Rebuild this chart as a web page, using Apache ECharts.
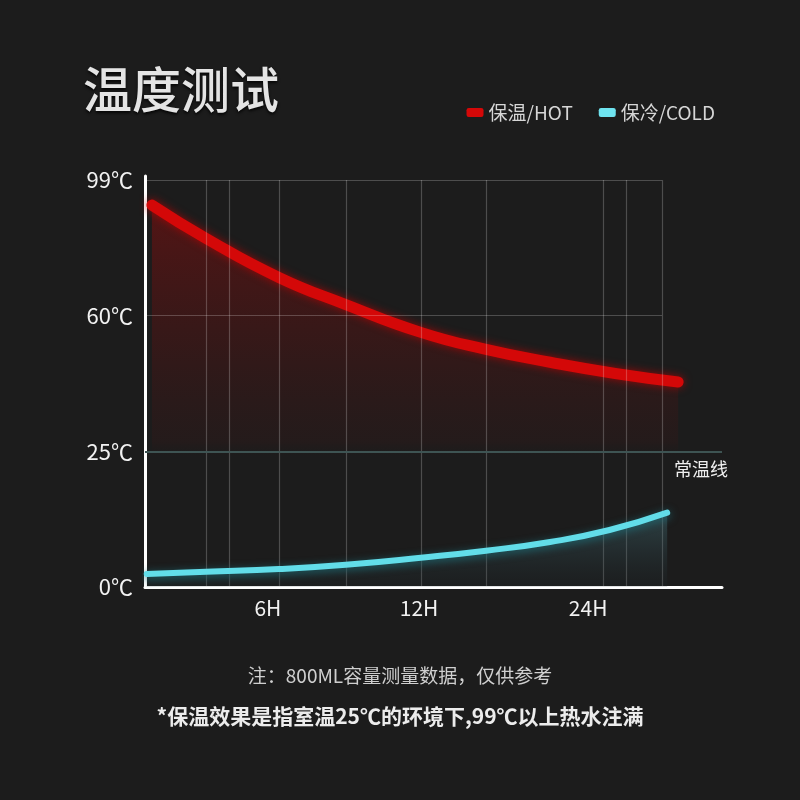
<!DOCTYPE html>
<html>
<head>
<meta charset="utf-8">
<script src="https://cdn.jsdelivr.net/npm/echarts@6/dist/echarts.min.js"></script>
<style>
html,body{margin:0;padding:0;background:#1c1c1c;}
#c{width:800px;height:800px;}
</style>
</head>
<body>
<div id="c"></div>
<script>
// ---- data ----
const tempTicks = [0, 25, 60, 99];
const yLabels = ['0℃', '25℃', '60℃', '99℃'];
const xTickPos = [21.3, 47.5, 76.8];
const xTickLabels = ['6H', '12H', '24H'];
const gridX = [10.6, 14.6, 23.2, 34.8, 47.8, 59.1, 79.5, 83.4, 89.6];
const roomTemp = 25;
const hotX = [1.2, 10.6, 23.2, 34.8, 47.8, 59.1, 70.2, 81.5, 92.4];
const hotT = [91.8, 82.2, 71.0, 63.2, 55.7, 51.3, 48.0, 45.1, 42.9];
const coldX = [0.3, 10.6, 23.2, 34.8, 47.8, 59.1, 70.2, 80.5, 90.5];
const coldT = [2.4, 2.8, 3.3, 4.1, 5.4, 6.7, 8.3, 10.5, 13.7];

// piecewise map temperature -> equally spaced axis units
function toAxis(t) {
  for (let i = 0; i < tempTicks.length - 1; i++) {
    const a = tempTicks[i], b = tempTicks[i + 1];
    if (t <= b || i === tempTicks.length - 2) return i + (t - a) / (b - a);
  }
}
const topIdx = tempTicks.length - 1;
const FONT = '"Noto Sans CJK SC", "Noto Sans", sans-serif';

const chart = echarts.init(document.getElementById('c'), null, {renderer: 'canvas'});

const gridLines = [];
tempTicks.forEach((t, i) => {
  if (i > 0 && t !== roomTemp) {
    gridLines.push([{coord: [0, toAxis(t)]}, {coord: [gridX[gridX.length - 1], toAxis(t)]}]);
  }
});
gridX.forEach(x => gridLines.push([{coord: [x, 0]}, {coord: [x, topIdx]}]));

const option = {
  backgroundColor: '#1c1c1c',
  animation: false,
  textStyle: {fontFamily: FONT},
  title: {
    text: '温度测试', left: 78, top: 60,
    textStyle: {color: '#e4e4e4', fontSize: 49, fontWeight: 500, fontFamily: FONT,
      textShadowColor: 'rgba(0,0,0,0.8)', textShadowBlur: 3, textShadowOffsetY: 2}
  },
  legend: {
    right: 80, top: 98, itemWidth: 17, itemHeight: 9, itemGap: 26,
    icon: 'roundRect',
    textStyle: {color: '#d6d6d6', fontSize: 19, fontFamily: FONT, padding: [0, 0, 0, 0]},
    data: ['保温/HOT', '保冷/COLD']
  },
  grid: {left: 145, right: 78, top: 176, bottom: 213, containLabel: false},
  xAxis: {
    type: 'value', min: 0, max: 100,
    axisLine: {show: true, lineStyle: {color: '#ffffff', width: 3}},
    axisTick: {show: false},
    splitLine: {show: false},
    axisLabel: {
      customValues: xTickPos,
      formatter: v => xTickLabels[xTickPos.indexOf(v)],
      color: '#f2f2f2', fontSize: 21, margin: 11, fontFamily: FONT
    }
  },
  yAxis: {
    type: 'value', min: 0, max: topIdx + 0.03,
    axisLine: {show: true, lineStyle: {color: '#ffffff', width: 3}},
    axisTick: {show: false},
    splitLine: {show: false},
    axisLabel: {
      customValues: tempTicks.map((t, i) => i),
      formatter: v => yLabels[Math.round(v)],
      color: '#f2f2f2', fontSize: 22, margin: 12, fontFamily: FONT
    }
  },
  graphic: [
    {type: 'text', left: 'center', top: 666, style: {text: '注：800ML容量测量数据，仅供参考', fill: '#cfcfcf', font: '19px ' + FONT}},
    {type: 'text', left: 'center', top: 706, style: {text: '*保温效果是指室温25℃的环境下,99℃以上热水注满', fill: '#ececec', font: 'bold 21px ' + FONT}}
  ],
  series: [
    {
      name: 'grid', type: 'line', data: [], z: 1, silent: true,
      markLine: {
        silent: true, symbol: ['none', 'none'], label: {show: false},
        lineStyle: {type: 'solid', color: 'rgba(255,255,255,0.22)', width: 1.2},
        data: gridLines
      }
    },
    {
      name: 'room', type: 'line', data: [], z: 2, silent: true,
      markLine: {
        silent: true, symbol: ['none', 'none'],
        lineStyle: {type: 'solid', color: '#3e5453', width: 2},
        label: {show: true, position: 'insideEndBottom', formatter: '常温线', color: '#f0f0f0',
          fontSize: 18, fontFamily: FONT, distance: [-6, 9]},
        data: [[{coord: [0, toAxis(roomTemp)]}, {coord: [100, toAxis(roomTemp)]}]]
      }
    },
    {
      name: '保温/HOT', type: 'line', smooth: 0.5, showSymbol: false, z: 4,
      data: hotX.map((x, i) => [x, toAxis(hotT[i])]),
      itemStyle: {color: '#d40808'},
      lineStyle: {color: '#d40808', width: 11, cap: 'round', join: 'round',
        shadowColor: 'rgba(200,0,0,0.7)', shadowBlur: 8},
      areaStyle: {
        color: new echarts.graphic.LinearGradient(0, 0, 0, 1, [
          {offset: 0, color: 'rgba(150,12,12,0.65)'},
          {offset: 0.35, color: 'rgba(110,16,16,0.45)'},
          {offset: 0.62, color: 'rgba(70,22,22,0.28)'},
          {offset: 0.66, color: 'rgba(40,20,20,0.0)'},
          {offset: 1, color: 'rgba(0,0,0,0)'}
        ])
      }
    },
    {
      name: '保冷/COLD', type: 'line', smooth: 0.5, showSymbol: false, z: 5,
      data: coldX.map((x, i) => [x, toAxis(coldT[i])]),
      itemStyle: {color: '#6fe4f0'},
      lineStyle: {color: '#62dde9', width: 6, cap: 'round', join: 'round',
        shadowColor: 'rgba(30,110,120,0.9)', shadowBlur: 8, shadowOffsetY: 2},
      areaStyle: {
        color: new echarts.graphic.LinearGradient(0, 0, 0, 1, [
          {offset: 0, color: 'rgba(80,140,150,0.5)'},
          {offset: 0.6, color: 'rgba(50,80,88,0.35)'},
          {offset: 1, color: 'rgba(30,45,50,0.2)'}
        ])
      }
    }
  ]
};
chart.setOption(option);
</script>
</body>
</html>
